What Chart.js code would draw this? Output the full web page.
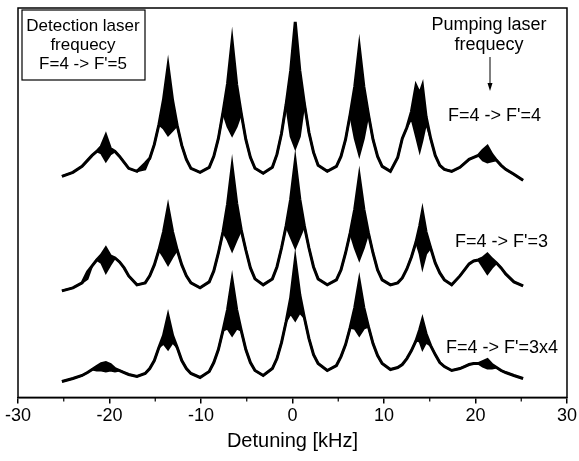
<!DOCTYPE html>
<html>
<head>
<meta charset="utf-8">
<script src="https://cdn.jsdelivr.net/npm/chart.js@4/dist/chart.umd.min.js"></script>
<style>
  html, body { margin: 0; padding: 0; background: #fff; }
  #chart { display: block; }
</style>
</head>
<body>
<canvas id="chart" width="579" height="461"></canvas>
<script>
// ====== DATA ======
// detuning in kHz, shared by all three traces
const detuning = [
  -25.2, -24.0, -23.0, -22.4, -21.9, -21.4, -20.9, -20.4, -19.9, -19.4, -18.9, -18.4, -17.9, -17.0,
  -16.1, -15.6, -15.1, -14.6, -14.1, -13.6, -13.1, -12.6, -12.1, -11.6, -11.1, -10.1,
  -9.1, -8.6, -8.1, -7.6, -7.1, -6.6, -6.1, -5.6, -5.1, -4.6, -4.1, -3.2,
  -2.2, -1.7, -1.2, -0.7, -0.2, 0.3, 0.8, 1.3, 1.8, 2.3, 2.8, 3.8,
  4.8, 5.3, 5.8, 6.3, 6.8, 7.3, 7.8, 8.3, 8.8, 9.3, 9.8, 10.7,
  11.5, 12.0, 12.5, 13.0, 13.5, 13.9, 14.2, 14.6, 15.1, 15.6, 16.1, 16.6, 17.4,
  18.3, 18.8, 19.3, 19.8, 20.3, 20.8, 21.3, 21.8, 22.3, 22.8, 23.3, 24.2, 25.2
];

// signal (arb. units, offset traces); upper / lower edge of the noisy band
const f44Upper = [
  222, 226, 232, 238, 243, 247, 252, 263, 250, 247, 242, 236, 230, 227,
  235, 240, 254, 274, 299, 333, 298, 273, 253, 239, 230, 226,
  231, 242, 260, 286, 315, 358, 314, 285, 259, 241, 230, 225,
  231, 244, 265, 294, 328, 377, 328, 295, 266, 246, 233, 227,
  232, 242, 259, 284, 312, 352, 312, 284, 259, 242, 232, 227,
  241, 260, 271, 287, 313, 305, 313, 282, 260, 243, 233, 229, 227,
  231, 235, 239, 241, 243, 248, 252, 244, 238, 233, 229, 224, 218
];
const f44Lower = [
  222, 226, 232, 238, 243, 247, 245, 237, 244, 247, 242, 236, 230, 227,
  229, 240, 254, 274, 270, 263, 268, 273, 253, 239, 230, 226,
  231, 242, 260, 286, 272, 263, 272, 285, 259, 241, 230, 225,
  231, 244, 265, 294, 262, 250, 262, 295, 266, 246, 233, 227,
  232, 242, 259, 284, 260, 243, 260, 284, 259, 242, 232, 227,
  241, 260, 271, 280, 262, 247, 258, 275, 260, 243, 233, 229, 227,
  231, 235, 239, 241, 243, 238, 236, 237, 238, 233, 229, 224, 218
];

const f43Upper = [
  107, 110, 115, 126, 132, 138, 143, 150, 142, 140, 136, 130, 122, 113,
  115, 122, 133, 148, 166, 191, 166, 148, 133, 122, 115, 110,
  116, 127, 145, 166, 194, 232, 195, 168, 148, 130, 119, 113,
  119, 131, 150, 172, 199, 237, 199, 172, 150, 131, 119, 113,
  118, 128, 145, 165, 189, 222, 189, 165, 145, 128, 118, 113,
  115, 120, 129, 141, 156, 172, 187, 166, 150, 135, 125, 118, 113,
  122, 128, 134, 137, 138, 140, 144, 139, 135, 130, 124, 116, 112
];
const f43Lower = [
  107, 110, 115, 119, 132, 138, 135, 125, 133, 140, 136, 130, 122, 113,
  115, 122, 133, 148, 141, 133, 141, 148, 133, 122, 115, 110,
  116, 127, 145, 166, 158, 147, 158, 168, 148, 130, 119, 113,
  119, 131, 150, 172, 161, 150, 161, 172, 150, 131, 119, 113,
  118, 128, 145, 165, 150, 138, 150, 165, 145, 128, 118, 113,
  115, 120, 129, 141, 156, 144, 130, 144, 150, 135, 125, 118, 113,
  122, 128, 134, 137, 138, 131, 124, 130, 135, 130, 124, 116, 112
];

const f434Upper = [
  16, 19, 22, 25, 28, 31, 34, 35, 33, 29, 27, 25, 23, 21,
  24, 29, 37, 50, 62, 82, 62, 50, 37, 29, 24, 20,
  26, 35, 48, 67, 88, 118, 88, 67, 48, 35, 27, 22,
  29, 39, 55, 76, 100, 138, 103, 80, 59, 43, 34, 27,
  32, 41, 53, 70, 90, 117, 90, 71, 54, 42, 34, 28,
  30, 33, 39, 47, 57, 68, 78, 64, 52, 43, 35, 31, 27,
  29, 31, 33, 34, 34, 36, 38, 33, 30, 27, 25, 22, 19
];
const f434Lower = [
  16, 19, 22, 25, 28, 27, 27, 26, 27, 26, 27, 25, 23, 21,
  24, 29, 37, 50, 54, 48, 55, 50, 37, 29, 24, 20,
  26, 35, 48, 67, 69, 62, 69, 67, 48, 35, 27, 22,
  29, 39, 55, 76, 84, 77, 85, 80, 59, 43, 34, 27,
  32, 41, 53, 70, 69, 62, 69, 71, 54, 42, 34, 28,
  30, 33, 39, 47, 57, 56, 48, 55, 52, 43, 35, 31, 27,
  29, 31, 33, 34, 34, 31, 29, 29, 30, 27, 25, 22, 19
];

const xTicks = [-30, -20, -10, 0, 10, 20, 30];
const minorTicks = [-25, -15, -5, 5, 15, 25];

// ====== HELPERS ======
const FONT = "'Liberation Sans', Arial, sans-serif";

function points(values) {
  return detuning.map((x, i) => ({ x: x, y: values[i] }));
}

function band(upper, lower) {
  return [
    { data: points(upper), borderColor: "#000", borderWidth: 3, pointRadius: 0, tension: 0, fill: false },
    { data: points(lower), borderColor: "#000", borderWidth: 2, pointRadius: 0, tension: 0,
      fill: "-1", backgroundColor: "#000" }
  ];
}

// ====== FRAME + MINOR TICKS + LABELS ======
const decorPlugin = {
  id: "decor",
  afterDraw(chart) {
    const ctx = chart.ctx;
    const a = chart.chartArea;
    const xs = chart.scales.x;
    ctx.save();
    ctx.strokeStyle = "#000";
    ctx.lineWidth = 1.5;
    ctx.strokeRect(a.left, a.top, a.right - a.left, a.bottom - a.top);

    // minor ticks
    ctx.lineWidth = 1.2;
    minorTicks.forEach(v => {
      const px = xs.getPixelForValue(v);
      ctx.beginPath();
      ctx.moveTo(px, a.bottom);
      ctx.lineTo(px, a.bottom + 4);
      ctx.stroke();
    });

    // detection laser box
    ctx.fillStyle = "#fff";
    ctx.fillRect(22, 10, 123, 70);
    ctx.lineWidth = 1.2;
    ctx.strokeRect(22, 10, 123, 70);

    ctx.fillStyle = "#000";
    ctx.font = "17px " + FONT;
    ctx.textAlign = "center";
    ctx.textBaseline = "middle";
    ctx.fillText("Detection laser", 83, 26);
    ctx.fillText("frequecy", 83, 45);
    ctx.fillText("F=4 -> F'=5", 83, 64);

    ctx.font = "18px " + FONT;
    ctx.fillText("Pumping laser", 489, 25);
    ctx.fillText("frequecy", 489, 45);

    // arrow
    ctx.lineWidth = 1;
    ctx.beginPath();
    ctx.moveTo(490, 57);
    ctx.lineTo(490, 88);
    ctx.stroke();
    ctx.beginPath();
    ctx.moveTo(490, 91);
    ctx.lineTo(487.5, 83);
    ctx.lineTo(492.5, 83);
    ctx.closePath();
    ctx.fill();

    ctx.textAlign = "left";
    ctx.fillText("F=4 -> F'=4", 448, 116);
    ctx.fillText("F=4 -> F'=3", 455, 242);
    ctx.fillText("F=4 -> F'=3x4", 446, 348);
    ctx.restore();
  }
};

// ====== CHART ======
new Chart(document.getElementById("chart"), {
  type: "line",
  data: {
    datasets: [
      ...band(f44Upper, f44Lower),
      ...band(f43Upper, f43Lower),
      ...band(f434Upper, f434Lower)
    ]
  },
  options: {
    responsive: false,
    animation: false,
    layout: { padding: { left: 18, right: 11, top: 8, bottom: 8 } },
    plugins: {
      legend: { display: false },
      tooltip: { enabled: false }
    },
    scales: {
      x: {
        type: "linear",
        min: -30,
        max: 30,
        afterBuildTicks: (scale) => { scale.ticks = xTicks.map(v => ({ value: v })); },
        ticks: {
          color: "#000",
          padding: 2,
          font: { family: FONT, size: 18 }
        },
        grid: { drawOnChartArea: false, drawTicks: true, tickLength: 6, color: "#000", lineWidth: 1.5 },
        border: { display: true, color: "#000", width: 1.5 },
        title: {
          display: true,
          text: "Detuning [kHz]",
          color: "#000",
          padding: 0,
          font: { family: FONT, size: 20 }
        }
      },
      y: {
        display: false,
        min: 0,
        max: 391
      }
    }
  },
  plugins: [decorPlugin]
});
</script>
</body>
</html>
